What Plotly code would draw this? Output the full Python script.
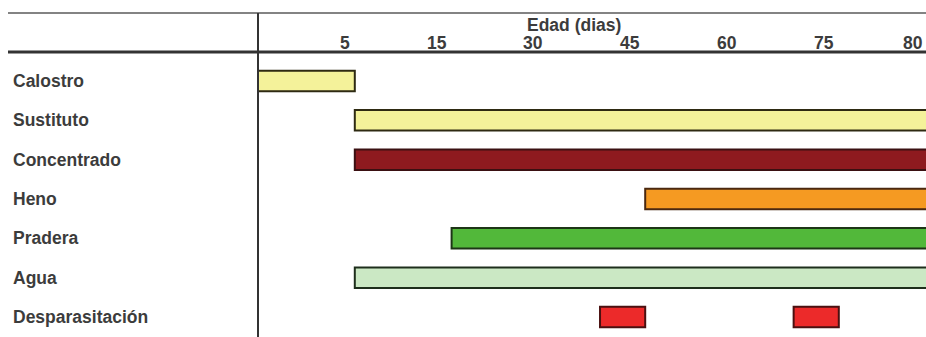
import numpy as np
import plotly.graph_objects as go

# ---- data ----
categories = ["Calostro", "Sustituto", "Concentrado", "Heno", "Pradera", "Agua", "Desparasitación"]
tick_days = [0, 5, 15, 30, 45, 60, 75, 80]          # column boundaries of the age header
tick_labels = ["5", "15", "30", "45", "60", "75", "80"]
axis_title = "Edad (dias)"

# one entry per bar: category, start day, end day (80 = continues past the edge)
bar_category = ["Calostro", "Sustituto", "Concentrado", "Heno", "Pradera", "Agua",
                "Desparasitación", "Desparasitación"]
bar_start = [0, 5, 5, 45, 15, 5, 38, 68]
bar_end = [5, 80, 80, 80, 80, 80, 45, 75]

# ---- styles ----
fill = {"Calostro": "#f4f29a", "Sustituto": "#f4f29a", "Concentrado": "#8e1a1f",
        "Heno": "#f59a22", "Pradera": "#52b83a", "Agua": "#cbe8c4",
        "Desparasitación": "#ec2a2a"}
edge = {"Calostro": "#2e2a12", "Sustituto": "#2e2a12", "Concentrado": "#3a1012",
        "Heno": "#4a2810", "Pradera": "#1d3516", "Agua": "#1e2e1c",
        "Desparasitación": "#4a1010"}
TXT = "#3c3c3c"
FONT = "Liberation Sans, Arial, sans-serif"
FS = 17.5
W, H = 926, 337

# header column position scale (equal-width columns)
col_idx = np.arange(len(tick_days))
def pos(d):
    return np.interp(d, tick_days, col_idx)

row = {c: i for i, c in enumerate(categories)}
starts = pos(bar_start)
ends = pos(bar_end)
ys = [row[c] for c in bar_category]

fig = go.Figure()
fig.add_trace(go.Bar(
    orientation="h",
    y=ys,
    x=ends - starts,
    base=starts,
    width=0.52,
    marker=dict(color=[fill[c] for c in bar_category],
                line=dict(color=[edge[c] for c in bar_category], width=2)),
    hoverinfo="skip",
    showlegend=False,
))

# px <-> data scale helpers for layout
x0px, colw = 258, 96.8
y0px, rowh = 81, 39.33
xr = [(0 - x0px) / colw, (W - x0px) / colw]
yr = [(H - y0px) / rowh, (0 - y0px) / rowh]

def py(px):
    return 1 - px / H

def xpaper(p):
    return (x0px + p * colw) / W

font = dict(family=FONT, size=FS, color=TXT, weight="bold")
annotations = []
for c in categories:
    annotations.append(dict(x=11 / W, xref="paper", xanchor="left", y=row[c], yref="y",
                            yanchor="middle", text=c, showarrow=False, font=font))
for d, t in zip(tick_days[1:], tick_labels):
    # keep the last label fully inside the picture
    xp = min(xpaper(float(pos(d))) - 3 / W, (W - 1) / W)
    annotations.append(dict(x=xp, xref="paper", xanchor="right",
                            y=py(43), yref="paper", yanchor="middle", text=t,
                            showarrow=False, font=font))
annotations.append(dict(x=525 / W, xref="paper", xanchor="left", y=py(25), yref="paper",
                        yanchor="middle", text=axis_title, showarrow=False, font=font))

shapes = [
    dict(type="line", xref="paper", yref="paper", x0=8 / W, x1=1, y0=py(13), y1=py(13),
         line=dict(color="#5a5a5a", width=1.5)),
    dict(type="line", xref="paper", yref="paper", x0=8 / W, x1=1, y0=py(52), y1=py(52),
         line=dict(color="#333333", width=3)),
    dict(type="line", xref="x", yref="paper", x0=0, x1=0, y0=py(13), y1=0,
         line=dict(color="#333333", width=2)),
]

fig.update_layout(
    width=W, height=H,
    margin=dict(l=0, r=0, t=0, b=0),
    paper_bgcolor="white", plot_bgcolor="white",
    barmode="overlay",
    xaxis=dict(range=xr, visible=False, fixedrange=True),
    yaxis=dict(range=yr, visible=False, fixedrange=True),
    annotations=annotations,
    shapes=shapes,
)

fig.write_html("out.html")
